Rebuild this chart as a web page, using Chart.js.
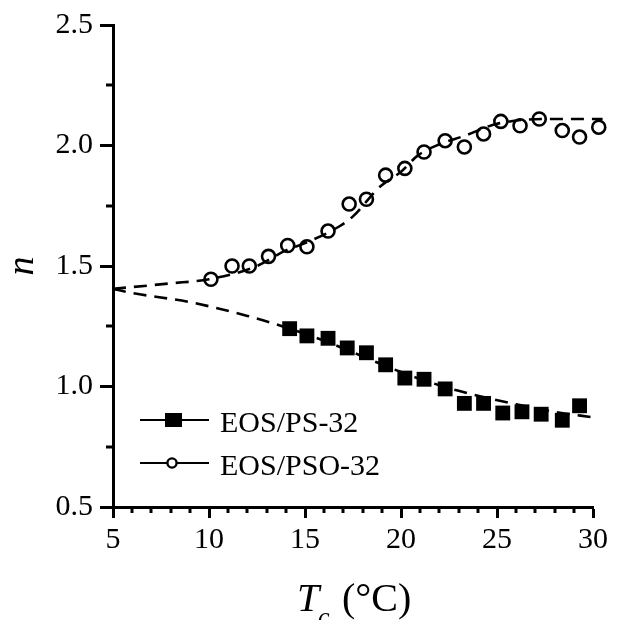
<!DOCTYPE html>
<html>
<head>
<meta charset="utf-8">
<script src="https://cdn.jsdelivr.net/npm/chart.js@4/dist/chart.umd.min.js"></script>
<style>
  html, body { margin: 0; padding: 0; background: #fff; }
  #wrap { width: 619px; height: 620px; }
</style>
</head>
<body>
<div id="wrap"><canvas id="c" width="619" height="620"></canvas></div>
<script>
// Avrami exponent n versus crystallization temperature Tc
const seriesLabels = ['EOS/PS-32', 'EOS/PSO-32'];

const psTemp = [14.2, 15.1, 16.2, 17.2, 18.2, 19.2, 20.2, 21.2, 22.3, 23.3, 24.3, 25.3, 26.3, 27.3, 28.4, 29.3];
const psN    = [1.24, 1.21, 1.20, 1.16, 1.14, 1.09, 1.035, 1.03, 0.99, 0.93, 0.93, 0.89, 0.895, 0.885, 0.86, 0.92];

const psoTemp = [10.1, 11.2, 12.1, 13.1, 14.1, 15.1, 16.2, 17.3, 18.2, 19.2, 20.2, 21.2, 22.3, 23.3, 24.3, 25.2, 26.2, 27.2, 28.4, 29.3, 30.3];
const psoN    = [1.445, 1.50, 1.50, 1.54, 1.585, 1.58, 1.645, 1.757, 1.777, 1.877, 1.905, 1.973, 2.02, 1.994, 2.048, 2.10, 2.082, 2.11, 2.062, 2.035, 2.076];

// dashed guide curves
const psFitTemp = [5, 6, 9, 12, 14, 16, 18, 20, 22, 23, 26, 28, 30];
const psFitN    = [1.405, 1.388, 1.35, 1.293, 1.245, 1.19, 1.125, 1.06, 1.005, 0.982, 0.926, 0.895, 0.872];
const psoFitTemp = [5, 8, 10, 12.5, 14, 15, 16.8, 17.5, 18.9, 20, 20.9, 22, 23.3, 25, 27.7, 30.5];
const psoFitN    = [1.405, 1.428, 1.445, 1.50, 1.565, 1.595, 1.665, 1.706, 1.829, 1.891, 1.96, 2.005, 2.04, 2.09, 2.11, 2.11];

// axis ticks
const xTicks = [5, 10, 15, 20, 25, 30];
const xMinorTicks = [6, 7, 8, 9, 11, 12, 13, 14, 16, 17, 18, 19, 21, 22, 23, 24, 26, 27, 28, 29];
const yTicks = [0.5, 1.0, 1.5, 2.0, 2.5];
const yMinorTicks = [0.75, 1.25, 1.75, 2.25];

const SERIF = '"Liberation Serif", "DejaVu Serif", serif';

const pairs = (xs, ys) => xs.map((x, i) => ({ x: x, y: ys[i] }));

const squareStyle = { pointStyle: 'rect', pointRadius: 10.5, backgroundColor: '#000', borderColor: '#000', borderWidth: 0 };
const circleStyle = { pointStyle: 'circle', pointRadius: 6.5, backgroundColor: '#fff', borderColor: '#000', borderWidth: 2.6 };

// minor ticks, x-axis title with subscript, and the legend
const decorations = {
  id: 'decorations',
  afterDraw(chart) {
    const ctx = chart.ctx;
    const xs = chart.scales.x, ys = chart.scales.y;
    const area = chart.chartArea;
    ctx.save();
    ctx.strokeStyle = '#000';
    ctx.lineWidth = 3;
    ctx.beginPath();
    xMinorTicks.forEach(v => {
      const px = Math.round(xs.getPixelForValue(v));
      ctx.moveTo(px, area.bottom);
      ctx.lineTo(px, area.bottom + 6);
    });
    yMinorTicks.forEach(v => {
      const py = Math.round(ys.getPixelForValue(v));
      ctx.moveTo(area.left, py);
      ctx.lineTo(area.left - 7, py);
    });
    ctx.stroke();

    // x-axis title: T_c (°C)
    ctx.fillStyle = '#000';
    ctx.textBaseline = 'alphabetic';
    ctx.textAlign = 'left';
    const base = 611;
    ctx.font = 'italic 40px ' + SERIF;
    ctx.fillText('T', 297, base);
    ctx.font = 'italic 26px ' + SERIF;
    ctx.fillText('c', 318, base + 14);
    ctx.font = '40px ' + SERIF;
    ctx.fillText('(\u00B0C)', 342, base);

    // legend
    const entries = [
      { label: chart.data.datasets[0].label, y: 420, style: squareStyle },
      { label: chart.data.datasets[1].label, y: 463, style: circleStyle }
    ];
    entries.forEach(e => {
      ctx.lineWidth = 2.2;
      ctx.strokeStyle = '#000';
      ctx.setLineDash([]);
      ctx.beginPath();
      ctx.moveTo(140, e.y);
      ctx.lineTo(209, e.y);
      ctx.stroke();
      ctx.fillStyle = e.style.backgroundColor;
      ctx.strokeStyle = e.style.borderColor;
      if (e.style.pointStyle === 'rect') {
        ctx.fillRect(165, e.y - 7, 17, 14);
      } else {
        ctx.lineWidth = 2.4;
        ctx.beginPath();
        ctx.arc(172, e.y, 4.6, 0, Math.PI * 2);
        ctx.fill();
        ctx.stroke();
      }
      ctx.fillStyle = '#000';
      ctx.font = '30px ' + SERIF;
      ctx.textBaseline = 'alphabetic';
      ctx.fillText(e.label, 220, e.y + 11.5);
    });
    ctx.restore();
  }
};

new Chart(document.getElementById('c'), {
  type: 'scatter',
  data: {
    datasets: [
      Object.assign({ label: seriesLabels[0], data: pairs(psTemp, psN), showLine: false, order: 2, clip: false }, squareStyle),
      Object.assign({ label: seriesLabels[1], data: pairs(psoTemp, psoN), showLine: false, order: 2, clip: false }, circleStyle),
      { label: 'fit-ps', data: pairs(psFitTemp, psFitN), showLine: true, pointRadius: 0,
        borderColor: '#000', borderWidth: 2.6, borderDash: [13, 8], cubicInterpolationMode: 'monotone', order: 1, clip: false },
      { label: 'fit-pso', data: pairs(psoFitTemp, psoFitN), showLine: true, pointRadius: 0,
        borderColor: '#000', borderWidth: 2.6, borderDash: [13, 8], cubicInterpolationMode: 'monotone', order: 1, clip: false }
    ]
  },
  options: {
    responsive: false,
    animation: false,
    layout: { padding: { top: 20, right: 26, left: 0, bottom: 0 } },
    plugins: { legend: { display: false }, tooltip: { enabled: false } },
    scales: {
      x: {
        type: 'linear', min: 5, max: 30,
        afterBuildTicks: s => { s.ticks = xTicks.map(v => ({ value: v })); },
        afterFit: s => { s.height = 113; },
        border: { display: true, color: '#000', width: 3 },
        grid: { drawOnChartArea: false, drawTicks: true, tickLength: 11, tickWidth: 3, tickColor: '#000' },
        ticks: { color: '#000', font: { family: SERIF, size: 30 }, padding: 4, maxRotation: 0,
                 callback: v => String(v) }
      },
      y: {
        type: 'linear', min: 0.5, max: 2.5,
        afterBuildTicks: s => { s.ticks = yTicks.map(v => ({ value: v })); },
        afterFit: s => { s.width = 113; },
        border: { display: true, color: '#000', width: 3 },
        grid: { drawOnChartArea: false, drawTicks: true, tickLength: 13, tickWidth: 3, tickColor: '#000' },
        ticks: { color: '#000', font: { family: SERIF, size: 30 }, padding: 7,
                 callback: v => Number(v).toFixed(1) },
        title: { display: true, text: 'n', color: '#000', font: { family: SERIF, size: 38, style: 'italic' },
                 padding: { top: 0, bottom: 0 } }
      }
    }
  },
  plugins: [decorations]
});
</script>
</body>
</html>
